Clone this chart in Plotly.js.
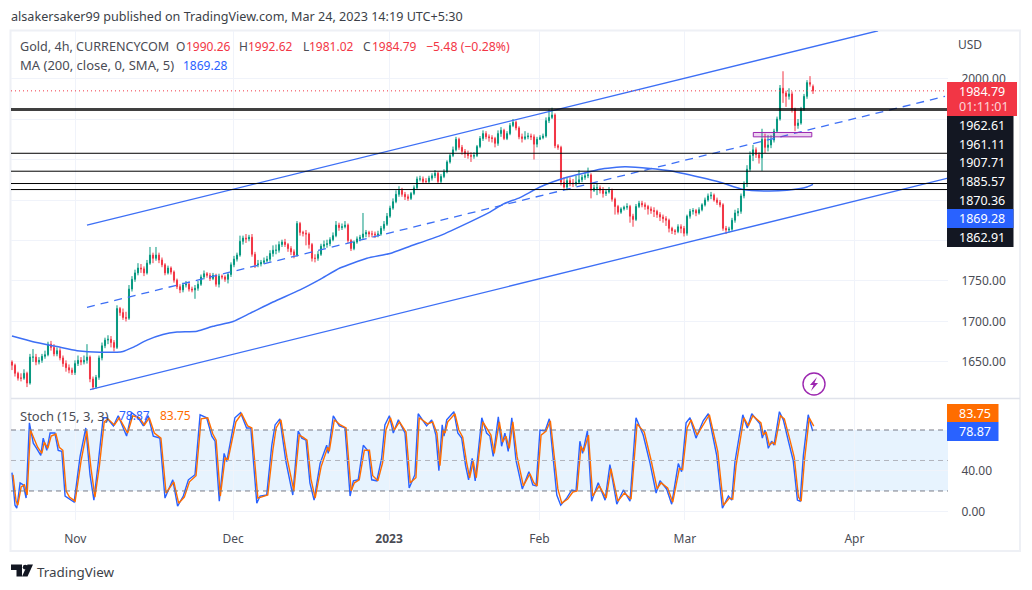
<!DOCTYPE html>
<html>
<head>
<meta charset="utf-8">
<script src="https://cdn.plot.ly/plotly-3.0.1.min.js"></script>
<style>html,body{margin:0;padding:0;background:#fff}#chart{width:1032px;height:590px}</style>
</head>
<body>
<div id="chart"></div>
<script>
// ---- candle values (4h gold, sampled along the chart) ----
var opens = [
1650,1646,1636,1630,1630,1636,1624,1656,1656,1650,
1652,1657,1659,1672,1668,1660,1664,1655,1648,1643,
1640,1637,1648,1652,1650,1652,1656,1629,1619,1631,
1655,1670,1677,1678,1674,1668,1716,1711,1705,1704,
1740,1752,1760,1766,1765,1760,1772,1782,1778,1782,
1776,1770,1760,1766,1761,1751,1743,1739,1745,1746,
1740,1739,1741,1746,1755,1759,1757,1753,1757,1746,
1756,1755,1752,1758,1770,1777,1782,1799,1803,1802,
1804,1783,1770,1771,1773,1775,1777,1784,1788,1788,
1795,1798,1795,1790,1786,1782,1821,1810,1809,1808,
1795,1778,1778,1783,1793,1795,1796,1801,1806,1819,
1816,1817,1819,1800,1790,1798,1802,1804,1808,1810,
1808,1808,1807,1808,1815,1820,1830,1840,1848,1857,
1862,1857,1854,1852,1858,1865,1876,1876,1873,1873,
1877,1880,1883,1873,1879,1885,1897,1905,1912,1925,
1915,1910,1907,1905,1904,1905,1916,1926,1932,1928,
1927,1926,1920,1932,1936,1926,1932,1942,1946,1939,
1928,1926,1928,1929,1928,1919,1925,1927,1929,1948,
1952,1955,1917,1915,1872,1866,1874,1871,1870,1872,
1875,1878,1880,1881,1862,1865,1865,1862,1858,1860,
1862,1851,1842,1835,1839,1841,1842,1830,1826,1842,
1846,1844,1842,1839,1837,1836,1832,1829,1827,1825,
1815,1812,1811,1817,1815,1809,1830,1836,1837,1834,
1838,1844,1850,1855,1856,1850,1847,1844,1815,1813,
1814,1825,1834,1836,1855,1870,1888,1905,1912,1906,
1902,1925,1915,1918,1924,1935,1950,1988,1982,1978,
1981,1962,1942,1945,1962,1978,1995,1990.26];
var highs = [
1652,1648,1638,1636,1641,1638,1660,1666,1660,1656,
1660,1664,1675,1676,1672,1668,1667,1658,1652,1647,
1643,1652,1658,1656,1658,1672,1658,1632,1634,1658,
1674,1680,1683,1682,1677,1720,1718,1716,1712,1745,
1756,1764,1772,1771,1768,1776,1792,1785,1792,1785,
1779,1772,1769,1768,1763,1753,1746,1748,1750,1749,
1743,1745,1750,1758,1763,1761,1760,1760,1759,1759,
1758,1757,1760,1773,1781,1785,1806,1806,1808,1807,
1808,1786,1776,1776,1779,1781,1788,1794,1795,1799,
1801,1802,1797,1793,1789,1824,1823,1812,1813,1810,
1797,1783,1787,1796,1800,1801,1804,1810,1824,1822,
1821,1824,1821,1802,1800,1805,1807,1834,1813,1812,
1812,1811,1812,1818,1824,1834,1843,1852,1862,1867,
1865,1860,1857,1860,1868,1879,1880,1879,1877,1880,
1883,1887,1885,1882,1888,1899,1907,1916,1928,1927,
1918,1913,1911,1909,1909,1918,1929,1936,1935,1931,
1930,1928,1936,1940,1938,1935,1945,1950,1948,1941,
1932,1935,1933,1932,1931,1928,1930,1932,1952,1962,
1964,1957,1919,1917,1878,1878,1878,1876,1880,1887,
1881,1884,1890,1883,1869,1870,1868,1866,1863,1866,
1864,1853,1844,1841,1843,1846,1844,1833,1845,1849,
1849,1847,1844,1842,1841,1838,1835,1832,1830,1827,
1817,1814,1820,1820,1818,1832,1839,1840,1839,1841,
1846,1853,1858,1860,1858,1853,1850,1846,1818,1817,
1828,1838,1840,1858,1873,1893,1910,1918,1915,1909,
1938,1932,1930,1930,1938,1953,1992,2009,1985,1988,
1984,1964,1950,1965,1981,1998,2003,1992.62];
var lows = [
1640,1632,1627,1626,1628,1619,1622,1650,1646,1647,
1649,1654,1657,1664,1657,1657,1652,1644,1638,1636,
1634,1634,1645,1646,1647,1648,1625,1616,1617,1628,
1652,1667,1672,1668,1663,1666,1707,1702,1700,1702,
1737,1749,1757,1760,1756,1758,1770,1772,1775,1772,
1767,1757,1758,1758,1748,1740,1735,1736,1742,1737,
1736,1728,1738,1744,1752,1754,1750,1751,1743,1742,
1752,1749,1747,1755,1767,1774,1780,1795,1797,1799,
1780,1766,1767,1768,1771,1773,1774,1780,1783,1785,
1792,1792,1786,1782,1778,1780,1806,1805,1794,1790,
1774,1773,1775,1781,1790,1791,1793,1799,1804,1812,
1813,1815,1797,1787,1788,1796,1799,1801,1804,1804,
1804,1803,1804,1806,1812,1818,1828,1838,1846,1854,
1854,1850,1849,1850,1856,1863,1873,1870,1870,1871,
1874,1877,1870,1871,1877,1883,1895,1903,1910,1912,
1906,1902,1901,1897,1901,1903,1914,1923,1925,1922,
1921,1915,1917,1928,1924,1924,1930,1940,1936,1925,
1921,1924,1925,1924,1900,1915,1924,1925,1927,1945,
1950,1914,1912,1868,1864,1862,1867,1866,1867,1870,
1872,1875,1877,1852,1860,1856,1858,1853,1855,1858,
1848,1832,1832,1833,1837,1838,1822,1817,1824,1840,
1841,1838,1832,1833,1829,1828,1824,1822,1818,1810,
1808,1807,1809,1809,1805,1806,1827,1832,1830,1832,
1836,1842,1848,1851,1848,1844,1841,1812,1808,1810,
1812,1822,1830,1833,1852,1866,1885,1898,1902,1895,
1886,1908,1910,1914,1921,1933,1948,1970,1965,1974,
1958,1935,1938,1943,1960,1975,1990,1981.02];
var closes = [
1646,1636,1630,1630,1636,1624,1656,1656,1650,1652,
1657,1659,1672,1668,1660,1664,1655,1648,1643,1640,
1637,1648,1652,1650,1652,1656,1629,1619,1631,1655,
1670,1677,1678,1674,1668,1716,1711,1705,1704,1740,
1752,1760,1766,1765,1760,1772,1782,1778,1782,1776,
1770,1760,1766,1761,1751,1743,1739,1745,1746,1740,
1739,1741,1746,1755,1759,1757,1753,1757,1746,1756,
1755,1752,1758,1770,1777,1782,1799,1803,1802,1804,
1783,1770,1771,1773,1775,1777,1784,1788,1788,1795,
1798,1795,1790,1786,1782,1821,1810,1809,1808,1795,
1778,1778,1783,1793,1795,1796,1801,1806,1819,1816,
1817,1819,1800,1790,1798,1802,1804,1808,1810,1808,
1808,1807,1808,1815,1820,1830,1840,1848,1857,1862,
1857,1854,1852,1858,1865,1876,1876,1873,1873,1877,
1880,1883,1873,1879,1885,1897,1905,1912,1925,1915,
1910,1907,1905,1904,1905,1916,1926,1932,1928,1927,
1926,1920,1932,1936,1926,1932,1942,1946,1939,1928,
1926,1928,1929,1928,1919,1925,1927,1929,1948,1952,
1955,1917,1915,1872,1866,1874,1871,1870,1872,1875,
1878,1880,1881,1862,1865,1865,1862,1858,1860,1862,
1851,1842,1835,1839,1841,1842,1830,1826,1842,1846,
1844,1842,1839,1837,1836,1832,1829,1827,1825,1815,
1812,1811,1817,1815,1809,1830,1836,1837,1834,1838,
1844,1850,1855,1856,1850,1847,1844,1815,1813,1814,
1825,1834,1836,1855,1870,1888,1905,1912,1906,1902,
1925,1915,1918,1924,1935,1950,1988,1982,1978,1981,
1962,1942,1945,1962,1978,1995,1993,1984.79];

// ---- moving average ----
var maBars = [0,7,15,21.7,29.3,37,40.3,45,50.3,55,61.7,67,73.7,79.3,87,96,102.7,109.3,118.3,126,132.7,142.7,152.7,159.3,163.7,169.3,176,185,191.7,196,204.3,212.7,219.3,229.3,236,243.7,251.7,258.3,265,267];
var maValues = [1682,1675,1669,1664,1662,1663,1668,1677,1684,1687,1688,1694,1700,1710,1724,1739,1752,1766,1778,1784,1793,1806,1823,1835,1845,1853,1866,1878,1884,1888,1891,1889,1886,1878,1872,1863,1861,1862,1866,1869.28];

// ---- drawn trend channel ----
var channelUpperBars = [25,288.67];
var channelUpperPrices = [1819,2059];
var channelMiddleBars = [25,311];
var channelMiddlePrices = [1717.5,1978];
var channelLowerBars = [26,312];
var channelLowerPrices = [1616,1877];

// ---- horizontal levels ----
var heavyLevels = [1962.61,1961.11];
var levels = [1907.71,1885.57,1870.36,1862.91];
var lastPrice = 1984.79;
var zoneBars = [247.1,266.6];
var zonePrices = [1928,1933.4];

// ---- stochastic ----
var stochBars = [
0,1,1.6,2.7,3.8,4.7,5.8,7.1,8.2,9.6,10.4,11.6,12.7,14.3,15.4,16.6,17.7,18.8,20.7,22.7,24.6,26,27.3,28.8,30.4,31.6,33.8,35.4,38.2,39.9,42.1,43.8,45.4,47.1,49.3,51,53.6,55.2,57.1,58.8,61,62.7,64.9,66.6,67.7,69.1,70.7,71.6,74.3,76.2,78.2,79.6,81.6,82.7,84.9,86.6,87.7,89.3,91.3,93.6,95.4,96.6,98,99.3,100.7,102.7,104.9,105.4,107.1,109.1,111,
112.7,113.8,115.4,117.1,118.8,119.9,121.6,123.2,124.3,125.8,127.1,128.8,131,132.4,134.3,135.4,138.2,139.9,141.3,142.3,143.4,144,144.9,147.3,148.6,149.9,151.2,152.2,153.4,154.4,156.6,158.2,159.3,160.4,162.1,163.2,164.3,165.4,166.6,168,170.1,172.3,173.6,174.7,176,177.7,179.1,181.6,182.9,184.9,186.6,188,189.3,190.2,191.8,193.2,195.4,197.7,199.3,201.6,203.8,206,208,210.4,212.7,214.7,216,218.2,219.9,222.1,223.2,224.7,226,
228,230.4,232.1,234.9,236.8,238.8,239.9,241,243.6,245.1,246.6,249.3,250.1,251,252.1,253.2,254,255.8,257.1,258.8,260.4,261.8,262.7,263.8,265.4,266.9];
var stochK = [
38,6,3,28,26,13,87,67,62,55,72,60,77,77,60,59,15,13,9,54,82,36,11,49,92,92,84,94,74,97,92,84,94,74,72,13,31,5,15,31,36,95,92,74,69,10,57,49,92,97,82,82,8,15,16,65,85,91,49,16,79,72,70,28,11,47,65,57,94,84,82,
15,30,31,65,59,31,30,52,85,94,77,90,77,23,36,96,84,90,75,40,85,74,90,98,77,72,45,31,52,30,92,77,74,54,93,64,77,59,92,50,22,39,26,25,80,79,91,16,6,13,21,20,69,57,79,10,28,11,46,7,21,10,92,75,47,18,30,22,7,47,39,87,92,
72,89,96,55,3,15,11,49,95,82,96,86,72,80,62,69,65,98,90,69,50,11,10,55,95,78.87];
var stochD = [
36,10,6,24,26,16,80,70,63,57,68,62,74,76,63,60,20,14,10,50,79,42,14,45,88,91,85,92,77,94,92,85,92,77,72,18,29,8,14,29,35,91,92,76,70,15,53,50,88,96,84,82,13,14,16,60,82,90,53,20,75,73,70,32,13,44,63,59,90,85,82,
20,28,31,60,60,35,30,48,80,92,80,88,78,28,33,92,86,88,77,45,80,77,88,96,80,73,48,33,49,33,88,80,75,57,88,68,74,62,88,54,25,37,28,25,75,79,89,22,8,12,19,20,64,59,75,15,25,13,42,10,18,12,86,78,50,22,28,23,9,42,41,82,90,
75,86,95,59,6,13,12,45,92,84,94,87,75,78,65,68,66,94,91,72,53,14,10,50,92,83.75];
var stochLag = 0.35;
var stochUpper = 80, stochMiddle = 50, stochLower = 20;

// ---- axis labels ----
var monthBars = [21.1,73.7,125.7,175.8,224.3,280.8];
var monthLabels = ['Nov','Dec','<b>2023</b>','Feb','Mar','Apr'];
var priceTicks = [1650,1700,1750,1800,1850,1900,1950,2000];
var priceLabels = ['1650.00','1700.00','1750.00','','','','','2000.00'];
var stochTicks = [0,40];
var stochLabels = ['0.00','40.00'];

var priceTags = [
  {text:'1962.61', y:125.5},{text:'1961.11', y:144},{text:'1907.71', y:163},
  {text:'1885.57', y:181.5},{text:'1870.36', y:200},{text:'1869.28', y:218.7},{text:'1862.91', y:237.5}
];

// ---- styling ----
var FONT = '"Noto Sans", sans-serif';
var TXT = '#131722', AX = '#4a4c55', GRID = '#f0f3fa', UP = '#089981', DOWN = '#F23645', BLUE = '#2962FF', ORANGE = '#FF6D00', LINE = '#3d6ff5';
var W = 1032, H = 590;
function px(x){return x/W;}
function py(y){return 1-y/H;}
var bars = closes.map(function(_,i){return i;});

var traces = [
  {type:'candlestick', x:bars, open:opens, high:highs, low:lows, close:closes, xaxis:'x', yaxis:'y',
   increasing:{line:{color:UP,width:1},fillcolor:UP}, decreasing:{line:{color:DOWN,width:1},fillcolor:DOWN},
   whiskerwidth:0, hoverinfo:'skip', showlegend:false},
  {type:'scatter', mode:'lines', x:maBars, y:maValues, xaxis:'x', yaxis:'y', line:{color:LINE,width:1.5,shape:'spline',smoothing:0.5}, hoverinfo:'skip', showlegend:false},
  {type:'scatter', mode:'lines', x:channelUpperBars, y:channelUpperPrices, xaxis:'x', yaxis:'y', line:{color:LINE,width:1.3}, hoverinfo:'skip', showlegend:false},
  {type:'scatter', mode:'lines', x:channelMiddleBars, y:channelMiddlePrices, xaxis:'x', yaxis:'y', line:{color:LINE,width:1.3,dash:'8px,6px'}, hoverinfo:'skip', showlegend:false},
  {type:'scatter', mode:'lines', x:channelLowerBars, y:channelLowerPrices, xaxis:'x', yaxis:'y', line:{color:LINE,width:1.3}, hoverinfo:'skip', showlegend:false},
  {type:'scatter', mode:'lines', x:stochBars, y:stochK, xaxis:'x2', yaxis:'y2', line:{color:BLUE,width:1.4}, hoverinfo:'skip', showlegend:false},
  {type:'scatter', mode:'lines', x:stochBars.map(function(b){return b+stochLag;}), y:stochD, xaxis:'x2', yaxis:'y2', line:{color:ORANGE,width:1.4}, hoverinfo:'skip', showlegend:false}
];

var shapes = [];
// stoch band and dashed bounds
shapes.push({type:'rect', layer:'below', xref:'x2 domain', yref:'y2', x0:0, x1:1, y0:stochLower, y1:stochUpper, fillcolor:'rgba(33,150,243,0.11)', line:{width:0}});
[[stochUpper,'#787B86'],[stochMiddle,'#b2b5be'],[stochLower,'#787B86']].forEach(function(d){
  shapes.push({type:'line', xref:'x2 domain', yref:'y2', x0:0, x1:1, y0:d[0], y1:d[0], line:{color:d[1],width:1,dash:'5px,4px'}});
});
// horizontal levels and last price
heavyLevels.forEach(function(v){
  shapes.push({type:'line', xref:'x domain', yref:'y', x0:0, x1:1, y0:v, y1:v, line:{color:'#000000',width:1.2}});
});
levels.forEach(function(v){
  shapes.push({type:'line', xref:'x domain', yref:'y', x0:0, x1:1, y0:v, y1:v, line:{color:'#000000',width:1}});
});
shapes.push({type:'line', xref:'x domain', yref:'y', x0:0, x1:1, y0:lastPrice, y1:lastPrice, line:{color:DOWN,width:1,dash:'1px,3px'}});
shapes.push({type:'rect', xref:'x', yref:'y', x0:zoneBars[0], x1:zoneBars[1], y0:zonePrices[0], y1:zonePrices[1], fillcolor:'rgba(156,39,176,0.2)', line:{color:'#9C27B0',width:1}});
// frame & separator
shapes.push({type:'rect', xref:'paper', yref:'paper', x0:px(10.5), x1:px(1020), y0:py(551), y1:py(30.5), line:{color:'#eef0f5',width:2}, layer:'below'});
shapes.push({type:'line', xref:'paper', yref:'paper', x0:px(11), x1:px(1020), y0:py(398.5), y1:py(398.5), line:{color:'#e0e3eb',width:1.5}});
// price-axis tag boxes
function box(x0,x1,y0,y1,c){shapes.push({type:'rect', xref:'paper', yref:'paper', x0:px(x0), x1:px(x1), y0:py(y1), y1:py(y0), fillcolor:c, line:{width:0}});}
box(947,1013.5,116,247,TXT);
box(947,1013.5,209,228,BLUE);
box(947,1017,82,116,DOWN);
box(947,998.5,404,422,ORANGE);
box(947,998.5,422,441,BLUE);
// lightning icon
shapes.push({type:'circle', xref:'paper', yref:'paper', x0:px(803), x1:px(825), y0:py(395), y1:py(373), line:{color:'#9C27B0',width:1.4}});
function pathOf(pts){return 'M'+pts.map(function(p){return px(p[0]).toFixed(5)+','+py(p[1]).toFixed(5);}).join(' L')+' Z';}
shapes.push({type:'path', xref:'paper', yref:'paper', path:pathOf([[817,377],[810,385],[813.5,385],[811,391],[818,383],[814.5,383]]), fillcolor:'#9C27B0', line:{width:0}});
// TradingView logo
shapes.push({type:'path', xref:'paper', yref:'paper', path:pathOf([[11,564.5],[22,564.5],[22,576.5],[16.5,576.5],[16.5,570],[11,570]]), fillcolor:TXT, line:{width:0}});
shapes.push({type:'circle', xref:'paper', yref:'paper', x0:px(22.8), x1:px(27.6), y0:py(569.6), y1:py(564.8), fillcolor:TXT, line:{width:0}});
shapes.push({type:'path', xref:'paper', yref:'paper', path:pathOf([[27.5,564.5],[33,564.5],[27.5,576.5],[22,576.5]]), fillcolor:TXT, line:{width:0}});

var ann = [];
function label(text,x,y,size,color,anchor){
  ann.push({xref:'paper', yref:'paper', x:px(x), y:py(y), xanchor:anchor||'left', yanchor:'middle', showarrow:false, text:text, align:'left',
           font:{family:FONT,size:size,color:color}, borderpad:0, borderwidth:0});
}
label('alsakersaker99 published on TradingView.com, Mar 24, 2023 14:19 UTC+5:30',11,16.5,12.6,'#3c3f48');
label('Gold, 4h, CURRENCYCOM',20,46.5,12.6,AX);
label('O',176,46.5,12,AX); label('1990.26',186,46.5,12,DOWN);
label('H',239,46.5,12,AX); label('1992.62',248,46.5,12,DOWN);
label('L',302.5,46.5,12,AX); label('1981.02',309,46.5,12,DOWN);
label('C',363,46.5,12,AX); label('1984.79',372,46.5,12,DOWN);
label('\u22125.48 (\u22120.28%)',426,46.5,12.3,DOWN);
label('MA (200, close, 0, SMA, 5)',20,65.5,13,AX);
label('1869.28',183,65.5,12,BLUE);
label('Stoch (15, 3, 3)',20,415.5,13,AX);
label('78.87',119,415.5,12,BLUE);
label('83.75',160,415.5,12,ORANGE);
label('USD',958,44.5,12,AX);
label('1984.79',959,91.5,12.5,'#ffffff');
label('01:11:01',959,106.5,12.5,'rgba(255,255,255,0.8)');
priceTags.forEach(function(t){label(t.text,959,t.y,12.5,'#ffffff');});
label('83.75',958.5,413,12.5,'#ffffff');
label('78.87',958.5,431.5,12.5,'#ffffff');
label('TradingView',37,571.5,13.4,'#3c3f48');

var layout = {
  width:W, height:H, margin:{l:0,r:0,t:0,b:0,autoexpand:false},
  paper_bgcolor:'#ffffff', plot_bgcolor:'#ffffff', showlegend:false, boxgap:0.5, dragmode:false,
  font:{family:FONT,size:12,color:AX},
  xaxis:{domain:[px(11),px(948)], range:[-0.33,312], anchor:'y', tickmode:'array', tickvals:monthBars, ticktext:monthLabels,
         showticklabels:false, showgrid:true, gridcolor:GRID, gridwidth:1, zeroline:false, rangeslider:{visible:false}, ticks:'', showline:false, fixedrange:true},
  yaxis:{domain:[py(398.5),py(31)], range:[1604.9,2058.7], anchor:'x', side:'right', tickmode:'array', tickvals:priceTicks, ticktext:priceLabels,
         showgrid:true, gridcolor:GRID, gridwidth:1, zeroline:false, ticks:'outside', ticklen:10, tickcolor:'rgba(0,0,0,0)', tickfont:{family:FONT,size:12,color:AX}, fixedrange:true},
  xaxis2:{domain:[px(11),px(948)], range:[-0.33,312], anchor:'y2', tickmode:'array', tickvals:monthBars, ticktext:monthLabels,
         showgrid:true, gridcolor:GRID, gridwidth:1, zeroline:false, ticks:'outside', ticklen:8, tickcolor:'rgba(0,0,0,0)', tickfont:{family:FONT,size:12,color:AX}, fixedrange:true},
  yaxis2:{domain:[py(520),py(399)], range:[-8.56,110.5], anchor:'x2', side:'right', tickmode:'array', tickvals:stochTicks, ticktext:stochLabels,
         showgrid:true, gridcolor:GRID, gridwidth:1, zeroline:false, ticks:'outside', ticklen:10, tickcolor:'rgba(0,0,0,0)', tickfont:{family:FONT,size:12,color:AX}, fixedrange:true},
  shapes:shapes, annotations:ann
};
Plotly.newPlot('chart', traces, layout, {displayModeBar:false, staticPlot:true});
</script>
</body>
</html>
